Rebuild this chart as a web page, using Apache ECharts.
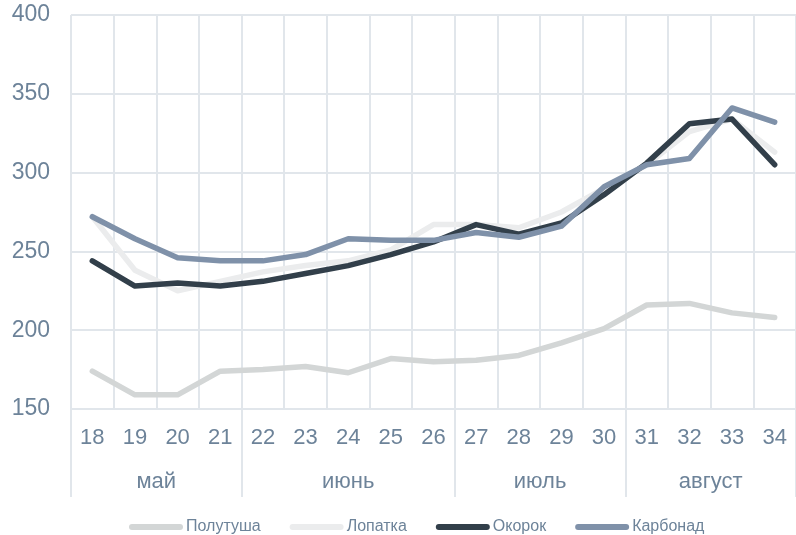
<!DOCTYPE html>
<html>
<head>
<meta charset="utf-8">
<script src="https://cdn.jsdelivr.net/npm/echarts@6/dist/echarts.min.js"></script>
<style>
  html, body { margin: 0; padding: 0; background: #fff; }
  #chart { width: 796px; height: 535px; }
</style>
</head>
<body>
<div id="chart"></div>
<script>
// недели и месяцы
var weeks = ["18", "19", "20", "21", "22", "23", "24", "25", "26", "27", "28", "29", "30", "31", "32", "33", "34"];
var months = ["май", "июнь", "июль", "август"];
var weeksInMonth = [4, 5, 4, 4];

// цены, руб/кг
var polutusha = [174, 159, 159, 174, 175, 177, 173, 182, 180, 181, 184, 192, 201, 216, 217, 211, 208];
var lopatka = [272, 238, 225, 231, 237, 241, 244, 251, 267, 267, 265, 275, 290, 305, 326, 334, 313];
var okorok = [244, 228, 230, 228, 231, 236, 241, 248, 256, 267, 261, 268, 286, 306, 331, 334, 305];
var karbonad = [272, 258, 246, 244, 244, 248, 258, 257, 257, 262, 259, 266, 291, 305, 309, 341, 332];

var yTicks = { min: 150, max: 400, step: 50 };

// вторая ось: полунедельные позиции, подпись месяца по центру группы
var halfSlots = [];
var bounds = [0];
var centers = {};
var pos = 0;
for (var i = 0; i < weeksInMonth.length; i++) {
  centers[pos * 2 + weeksInMonth[i]] = months[i];
  pos += weeksInMonth[i];
  bounds.push(pos * 2);
}
for (var k = 0; k <= weeks.length * 2; k++) {
  halfSlots.push(centers[k] || "");
}

var labelColor = "#6d8399";
var gridColor = "#e1e6eb";
var fontFam = "'Liberation Sans', Arial, sans-serif";

var myChart = echarts.init(document.getElementById("chart"));

function mkSeries(name, data, color) {
  return {
    name: name,
    type: "line",
    data: data,
    symbol: "none",
    lineStyle: { width: 5.5, color: color, cap: "round", join: "round" },
    itemStyle: { color: color },
  };
}

var pill = "path://M3,0 L51,0 A3,3 0 0 1 51,6 L3,6 A3,3 0 0 1 3,0 Z";

var option = {
  backgroundColor: "#fff",
  animation: false,
  textStyle: { fontFamily: fontFam },
  grid: { left: 71, top: 15, width: 731, height: 394 },
  legend: {
    left: 129,
    top: 519,
    padding: 0,
    itemWidth: 54,
    itemHeight: 6,
    itemGap: 29,
    textStyle: { color: labelColor, fontSize: 16, fontFamily: fontFam, padding: [0, 0, 0, -2] },
    data: [
      { name: "Полутуша", icon: pill },
      { name: "Лопатка", icon: pill },
      { name: "Окорок", icon: pill },
      { name: "Карбонад", icon: pill },
    ],
  },
  xAxis: [
    {
      type: "category",
      data: weeks,
      position: "bottom",
      boundaryGap: true,
      axisLine: { show: false },
      axisTick: { show: false },
      axisLabel: { color: labelColor, fontSize: 22, margin: 18, fontFamily: fontFam },
      splitLine: { show: true, interval: 0, lineStyle: { color: gridColor, width: 2 } },
    },
    {
      type: "category",
      data: halfSlots,
      position: "bottom",
      boundaryGap: false,
      axisLine: { show: false },
      axisTick: {
        show: true,
        length: 88,
        interval: function (index) {
          return bounds.indexOf(index) >= 0;
        },
        lineStyle: { color: gridColor, width: 2 },
      },
      axisLabel: {
        color: labelColor,
        fontSize: 22,
        margin: 62,
        fontFamily: fontFam,
        interval: function (index, value) {
          return value !== "";
        },
      },
      splitLine: { show: false },
    },
  ],
  yAxis: {
    type: "value",
    min: yTicks.min,
    max: yTicks.max,
    interval: yTicks.step,
    axisLine: { show: false },
    axisTick: { show: false },
    axisLabel: { color: labelColor, fontSize: 23, margin: 21, fontFamily: fontFam },
    splitLine: { show: true, lineStyle: { color: gridColor, width: 2 } },
  },
  series: [
    mkSeries("Полутуша", polutusha, "#d3d6d6"),
    mkSeries("Лопатка", lopatka, "#ebeced"),
    mkSeries("Окорок", okorok, "#323f4a"),
    mkSeries("Карбонад", karbonad, "#7f91a9"),
  ],
};

myChart.setOption(option);
</script>
</body>
</html>
